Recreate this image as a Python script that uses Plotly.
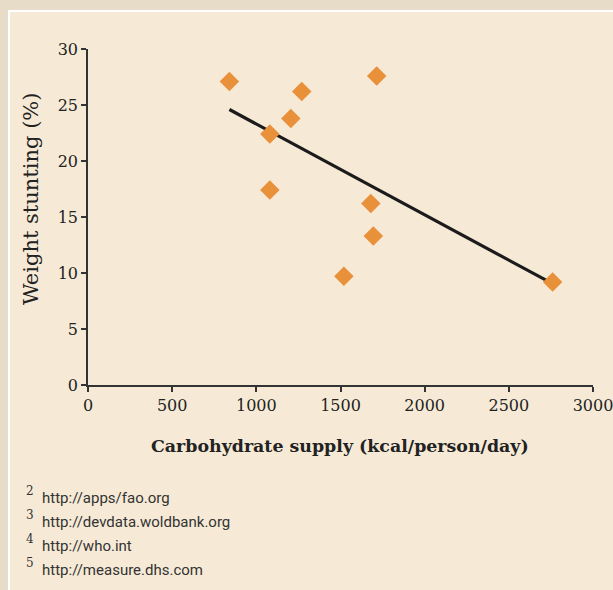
import plotly.graph_objects as go

# carbohydrate supply vs weight stunting
carb_supply = [840, 1715, 1270, 1205, 1080, 1080, 1680, 1695, 1520, 2760]
stunting = [27.1, 27.6, 26.2, 23.8, 22.4, 17.4, 16.2, 13.3, 9.7, 9.2]

# linear trend line end points
trend_x = [840, 2740]
trend_y = [24.6, 9.2]

x_ticks = [0, 500, 1000, 1500, 2000, 2500, 3000]
y_ticks = [0, 5, 10, 15, 20, 25, 30]

footnote_marks = ["2", "3", "4", "5"]
footnote_urls = [
    "http://apps/fao.org",
    "http://devdata.woldbank.org",
    "http://who.int",
    "http://measure.dhs.com",
]

W, H = 613, 590
L, R, T, B = 88, 20, 49, 205
PW, PH = W - L - R, H - T - B


def px(x):
    return (x - L) / PW


def py(y):
    return (H - B - y) / PH


fig = go.Figure()

fig.add_trace(go.Scatter(
    x=trend_x, y=trend_y, mode="lines",
    line=dict(color="#1b1b1b", width=3.2),
    hoverinfo="skip", showlegend=False,
))
fig.add_trace(go.Scatter(
    x=carb_supply, y=stunting, mode="markers",
    marker=dict(symbol="diamond", size=15, color="#E8913A", line=dict(width=0)),
    showlegend=False,
))

serif = "DejaVu Serif"
sans = "Roboto"

axis_style = dict(
    showgrid=False, zeroline=False,
    showline=True, linecolor="#333333", linewidth=1.5,
    ticks="outside", ticklen=5, tickcolor="#333333", tickwidth=1.5,
    tickfont=dict(family=serif, size=16, color="#222222"),
    ticklabeloverflow="allow", automargin=False,
)
fig.update_xaxes(range=[0, 3000], tickvals=x_ticks, **axis_style)
fig.update_yaxes(range=[0, 30], tickvals=y_ticks, **axis_style)

# lighter panel behind the chart
fig.add_shape(
    type="rect", xref="paper", yref="paper",
    x0=px(9), x1=px(W + 5), y0=py(11), y1=py(H + 5),
    fillcolor="#F6EAD6", line=dict(color="#FFFFFF", width=2), layer="below",
)

annotations = [
    dict(text="<b>Carbohydrate supply (kcal/person/day)</b>",
         x=px(340), y=py(446), font=dict(family=serif, size=17.4, color="#222222")),
    dict(text="Weight stunting (%)", textangle=-90,
         x=px(31), y=py(199), font=dict(family=serif, size=21, color="#222222")),
]
for i, (mark, url) in enumerate(zip(footnote_marks, footnote_urls)):
    yy = 498 + i * 23.9
    annotations.append(dict(text=mark, x=px(29.5), y=py(yy - 7),
                            font=dict(family=serif, size=12, color="#333333")))
    annotations.append(dict(text=url, x=px(40), y=py(yy), xanchor="left",
                            font=dict(family=sans, size=15, color="#333333")))
for a in annotations:
    a.setdefault("xanchor", "center")
    a.update(xref="paper", yref="paper", yanchor="middle", showarrow=False)
fig.update_layout(annotations=annotations)

fig.update_layout(
    width=W, height=H,
    margin=dict(l=L, r=R, t=T, b=B),
    paper_bgcolor="#E7DCC8",
    plot_bgcolor="rgba(0,0,0,0)",
)

fig.write_html(
    "out.html",
    config={"displayModeBar": False},
    post_script="document.body.style.margin='0';document.body.style.overflow='hidden';",
)
